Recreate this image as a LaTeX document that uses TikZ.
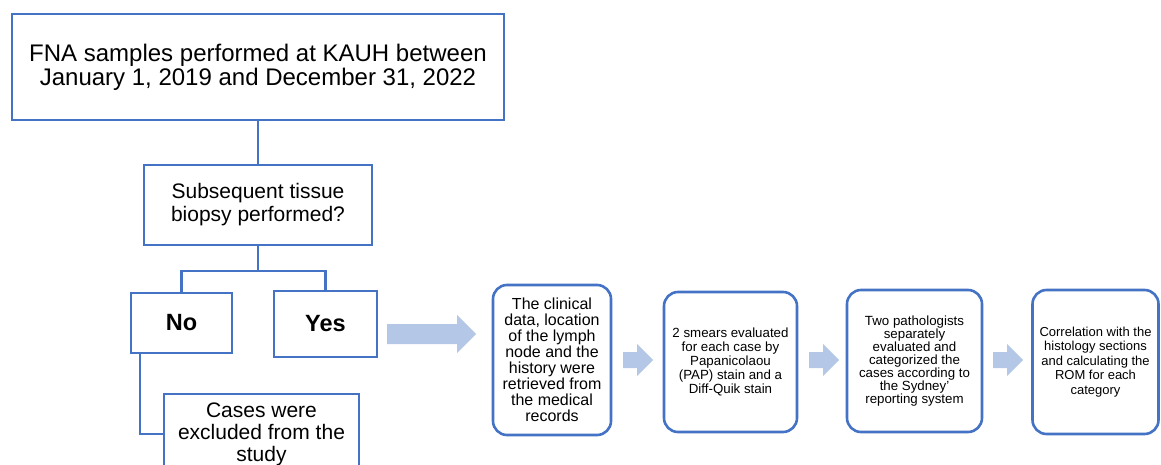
\documentclass[tikz,border=0pt]{standalone}
\usepackage{fontspec}
\setmainfont{Liberation Sans}
\definecolor{edgeblue}{HTML}{4472C4}
\definecolor{arrowfill}{HTML}{B4C7E7}
\begin{document}
\begin{tikzpicture}[x=1pt,y=-1pt,
  sqbox/.style={draw=edgeblue, line width=2.2pt, fill=white, inner sep=0pt, align=center, text=black},
  rbox/.style={draw=edgeblue, line width=2.6pt, fill=white, rounded corners=14pt, inner sep=0pt, align=center, text=black},
  link/.style={draw=edgeblue, line width=2.2pt},
  blockarrow/.style={fill=arrowfill, draw=none}]
\useasboundingbox (0,0) rectangle (1161,465);
\clip (0,0) rectangle (1161,465);

% decision tree on the left
\node[sqbox, minimum width=492pt, minimum height=106pt,
      font=\fontsize{24}{24}\selectfont] (fna) at (258,67)
  {FNA samples performed at KAUH between\\January 1, 2019 and December 31, 2022};
\node[sqbox, minimum width=228pt, minimum height=80pt,
      font=\fontsize{21}{23}\selectfont] (biopsy) at (258,205)
  {Subsequent tissue\\biopsy performed?};
\node[sqbox, minimum width=101pt, minimum height=60pt,
      font=\fontsize{23.5}{24}\selectfont\bfseries] (no) at (181.5,323) {No};
\node[sqbox, minimum width=103pt, minimum height=66pt,
      font=\fontsize{23.5}{24}\selectfont\bfseries] (yes) at (325.5,324) {Yes};
\node[sqbox, minimum width=195pt, minimum height=80pt,
      font=\fontsize{21}{22}\selectfont] (excl) at (261.5,434)
  {Cases were\\excluded from the\\study};

\draw[link] (fna.south) -- (biopsy.north);
\draw[link] (biopsy.south) -- ++(0,25) -| (no.north);
\draw[link] (biopsy.south) -- ++(0,25) -| (yes.north);
\coordinate (nofoot) at ([xshift=10pt]no.south west);
\draw[link] (nofoot) |- (excl.west);

% workflow steps for the biopsied cases
\node[rbox, minimum width=118pt, minimum height=150pt,
      font=\fontsize{16}{16}\selectfont] (s1) at (552,360)
  {The clinical\\data, location\\of the lymph\\node and the\\history were\\retrieved from\\the medical\\records};
\node[rbox, minimum width=133pt, minimum height=140pt,
      font=\fontsize{13.3}{14}\selectfont] (s2) at (730.5,362)
  {2 smears evaluated\\for each case by\\Papanicolaou\\(PAP) stain and a\\Diff-Quik stain};
\node[rbox, minimum width=135pt, minimum height=142pt,
      font=\fontsize{13.3}{13}\selectfont] (s3) at (914.5,361)
  {Two pathologists\\separately\\evaluated and\\categorized the\\cases according to\\the Sydney'\\reporting system};
\node[rbox, minimum width=126pt, minimum height=144pt,
      font=\fontsize{13}{14.5}\selectfont] (s4) at (1095.5,362)
  {Correlation with the\\histology sections\\and calculating the\\ROM for each\\category};

% block arrows between the steps
\fill[blockarrow] (387,324) -- (457,324) -- (457,315) -- (476,334) -- (457,353) -- (457,344) -- (387,344) -- cycle;
\fill[blockarrow] (623,352) -- (637,352) -- (637,344) -- (653,360) -- (637,376) -- (637,368) -- (623,368) -- cycle;
\fill[blockarrow] (809,352) -- (823,352) -- (823,344) -- (839,360) -- (823,376) -- (823,368) -- (809,368) -- cycle;
\fill[blockarrow] (993,352) -- (1007,352) -- (1007,344) -- (1023,360) -- (1007,376) -- (1007,368) -- (993,368) -- cycle;
\end{tikzpicture}
\end{document}
